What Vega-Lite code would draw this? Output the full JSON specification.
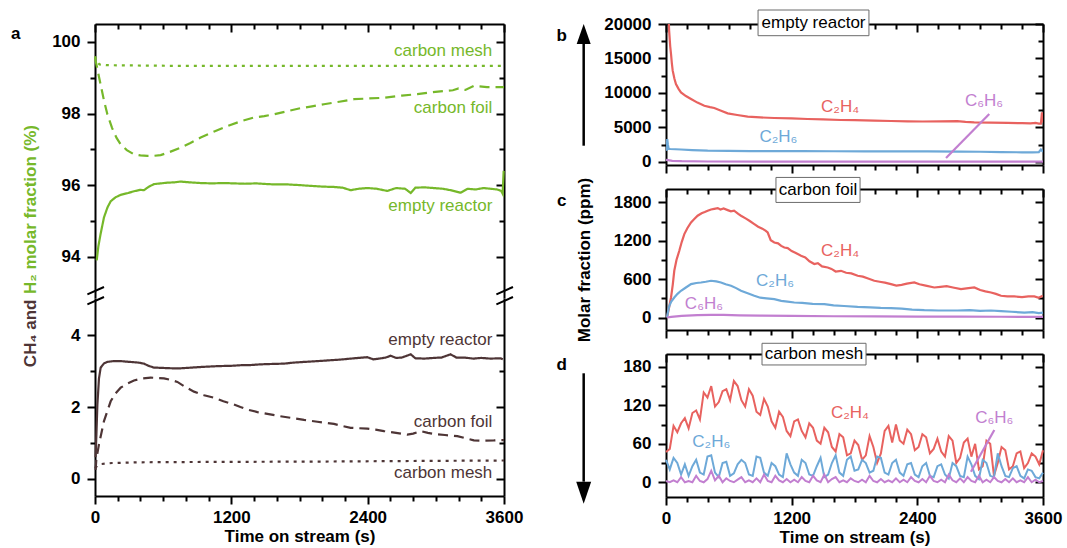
{
"$schema":"https://vega.github.io/schema/vega-lite/v6.json",
"padding":{"left":10,"top":9,"right":5,"bottom":3},
"background":"white",
"spacing":33,
"config":{"font":"Liberation Sans","view":{"stroke":null},
"axis":{"domainColor":"#000","domainWidth":2,"tickColor":"#000","tickWidth":2,"labelFont":"Liberation Sans","labelFontSize":17,"labelFontWeight":"bold","labelColor":"#000","grid":false,"titleFont":"Liberation Sans","titleFontSize":17,"titleFontWeight":"bold","titleColor":"#000","labelFlush":false,"labelOverlap":false,"zindex":0,"format":"d"},
"text":{"font":"Liberation Sans"}},
"datasets":{
"h2":[
{"s":"empty reactor","t":15,"v":93.9},{"s":"empty reactor","t":30,"v":94.3},{"s":"empty reactor","t":50,"v":94.65},{"s":"empty reactor","t":79,"v":95.1},{"s":"empty reactor","t":110,"v":95.38},{"s":"empty reactor","t":138,"v":95.55},{"s":"empty reactor","t":180,"v":95.66},{"s":"empty reactor","t":226,"v":95.73},{"s":"empty reactor","t":290,"v":95.78},{"s":"empty reactor","t":343,"v":95.83},{"s":"empty reactor","t":400,"v":95.87},{"s":"empty reactor","t":431,"v":95.86},{"s":"empty reactor","t":470,"v":95.95},{"s":"empty reactor","t":519,"v":96.03},{"s":"empty reactor","t":580,"v":96.05},{"s":"empty reactor","t":637,"v":96.07},{"s":"empty reactor","t":700,"v":96.08},{"s":"empty reactor","t":754,"v":96.1},{"s":"empty reactor","t":830,"v":96.08},{"s":"empty reactor","t":930,"v":96.06},{"s":"empty reactor","t":1030,"v":96.05},{"s":"empty reactor","t":1130,"v":96.06},{"s":"empty reactor","t":1223,"v":96.05},{"s":"empty reactor","t":1320,"v":96.04},{"s":"empty reactor","t":1420,"v":96.05},{"s":"empty reactor","t":1517,"v":96.03},{"s":"empty reactor","t":1600,"v":96.02},{"s":"empty reactor","t":1700,"v":96.02},{"s":"empty reactor","t":1810,"v":96.0},{"s":"empty reactor","t":1900,"v":95.98},{"s":"empty reactor","t":2000,"v":95.96},{"s":"empty reactor","t":2103,"v":95.95},{"s":"empty reactor","t":2180,"v":95.93},{"s":"empty reactor","t":2250,"v":95.86},{"s":"empty reactor","t":2320,"v":95.9},{"s":"empty reactor","t":2397,"v":95.92},{"s":"empty reactor","t":2480,"v":95.9},{"s":"empty reactor","t":2573,"v":95.84},{"s":"empty reactor","t":2650,"v":95.92},{"s":"empty reactor","t":2730,"v":95.9},{"s":"empty reactor","t":2779,"v":95.78},{"s":"empty reactor","t":2820,"v":95.93},{"s":"empty reactor","t":2900,"v":95.94},{"s":"empty reactor","t":2980,"v":95.92},{"s":"empty reactor","t":3060,"v":95.9},{"s":"empty reactor","t":3130,"v":95.86},{"s":"empty reactor","t":3218,"v":95.79},{"s":"empty reactor","t":3280,"v":95.9},{"s":"empty reactor","t":3350,"v":95.88},{"s":"empty reactor","t":3420,"v":95.92},{"s":"empty reactor","t":3480,"v":95.9},{"s":"empty reactor","t":3540,"v":95.88},{"s":"empty reactor","t":3575,"v":95.84},{"s":"empty reactor","t":3588,"v":95.76},{"s":"empty reactor","t":3597,"v":96.4},
{"s":"carbon foil","t":0,"v":99.55},{"s":"carbon foil","t":21,"v":99.24},{"s":"carbon foil","t":50,"v":98.8},{"s":"carbon foil","t":80,"v":98.35},{"s":"carbon foil","t":109,"v":97.98},{"s":"carbon foil","t":150,"v":97.6},{"s":"carbon foil","t":190,"v":97.32},{"s":"carbon foil","t":226,"v":97.14},{"s":"carbon foil","t":280,"v":96.98},{"s":"carbon foil","t":343,"v":96.86},{"s":"carbon foil","t":400,"v":96.83},{"s":"carbon foil","t":461,"v":96.82},{"s":"carbon foil","t":520,"v":96.82},{"s":"carbon foil","t":578,"v":96.84},{"s":"carbon foil","t":660,"v":96.93},{"s":"carbon foil","t":754,"v":97.05},{"s":"carbon foil","t":840,"v":97.18},{"s":"carbon foil","t":930,"v":97.33},{"s":"carbon foil","t":1050,"v":97.5},{"s":"carbon foil","t":1165,"v":97.65},{"s":"carbon foil","t":1280,"v":97.78},{"s":"carbon foil","t":1400,"v":97.89},{"s":"carbon foil","t":1490,"v":97.93},{"s":"carbon foil","t":1576,"v":97.98},{"s":"carbon foil","t":1700,"v":98.07},{"s":"carbon foil","t":1810,"v":98.15},{"s":"carbon foil","t":1910,"v":98.2},{"s":"carbon foil","t":2015,"v":98.26},{"s":"carbon foil","t":2150,"v":98.33},{"s":"carbon foil","t":2279,"v":98.4},{"s":"carbon foil","t":2400,"v":98.42},{"s":"carbon foil","t":2543,"v":98.44},{"s":"carbon foil","t":2700,"v":98.5},{"s":"carbon foil","t":2837,"v":98.54},{"s":"carbon foil","t":2950,"v":98.59},{"s":"carbon foil","t":3071,"v":98.63},{"s":"carbon foil","t":3150,"v":98.65},{"s":"carbon foil","t":3200,"v":98.7},{"s":"carbon foil","t":3260,"v":98.66},{"s":"carbon foil","t":3335,"v":98.77},{"s":"carbon foil","t":3450,"v":98.74},{"s":"carbon foil","t":3600,"v":98.74},
{"s":"carbon mesh","t":0,"v":99.6},{"s":"carbon mesh","t":15,"v":99.45},{"s":"carbon mesh","t":40,"v":99.37},{"s":"carbon mesh","t":100,"v":99.35},{"s":"carbon mesh","t":400,"v":99.34},{"s":"carbon mesh","t":800,"v":99.33},{"s":"carbon mesh","t":1500,"v":99.33},{"s":"carbon mesh","t":2200,"v":99.33},{"s":"carbon mesh","t":2800,"v":99.33},{"s":"carbon mesh","t":3600,"v":99.33}
],
"ch4":[
{"s":"empty reactor","t":5,"v":0.6},{"s":"empty reactor","t":12,"v":1.2},{"s":"empty reactor","t":21,"v":2.07},{"s":"empty reactor","t":35,"v":2.8},{"s":"empty reactor","t":50,"v":3.1},{"s":"empty reactor","t":80,"v":3.22},{"s":"empty reactor","t":109,"v":3.26},{"s":"empty reactor","t":160,"v":3.28},{"s":"empty reactor","t":226,"v":3.28},{"s":"empty reactor","t":300,"v":3.26},{"s":"empty reactor","t":380,"v":3.24},{"s":"empty reactor","t":431,"v":3.21},{"s":"empty reactor","t":470,"v":3.15},{"s":"empty reactor","t":519,"v":3.1},{"s":"empty reactor","t":600,"v":3.09},{"s":"empty reactor","t":680,"v":3.08},{"s":"empty reactor","t":754,"v":3.08},{"s":"empty reactor","t":850,"v":3.1},{"s":"empty reactor","t":950,"v":3.12},{"s":"empty reactor","t":1077,"v":3.14},{"s":"empty reactor","t":1200,"v":3.15},{"s":"empty reactor","t":1300,"v":3.17},{"s":"empty reactor","t":1370,"v":3.17},{"s":"empty reactor","t":1450,"v":3.19},{"s":"empty reactor","t":1550,"v":3.2},{"s":"empty reactor","t":1664,"v":3.21},{"s":"empty reactor","t":1750,"v":3.24},{"s":"empty reactor","t":1850,"v":3.26},{"s":"empty reactor","t":1957,"v":3.28},{"s":"empty reactor","t":2050,"v":3.3},{"s":"empty reactor","t":2150,"v":3.32},{"s":"empty reactor","t":2250,"v":3.35},{"s":"empty reactor","t":2320,"v":3.37},{"s":"empty reactor","t":2397,"v":3.39},{"s":"empty reactor","t":2450,"v":3.33},{"s":"empty reactor","t":2500,"v":3.35},{"s":"empty reactor","t":2560,"v":3.38},{"s":"empty reactor","t":2602,"v":3.43},{"s":"empty reactor","t":2650,"v":3.37},{"s":"empty reactor","t":2700,"v":3.38},{"s":"empty reactor","t":2779,"v":3.47},{"s":"empty reactor","t":2820,"v":3.36},{"s":"empty reactor","t":2900,"v":3.35},{"s":"empty reactor","t":2983,"v":3.37},{"s":"empty reactor","t":3050,"v":3.38},{"s":"empty reactor","t":3130,"v":3.47},{"s":"empty reactor","t":3180,"v":3.38},{"s":"empty reactor","t":3250,"v":3.38},{"s":"empty reactor","t":3330,"v":3.35},{"s":"empty reactor","t":3400,"v":3.37},{"s":"empty reactor","t":3480,"v":3.35},{"s":"empty reactor","t":3571,"v":3.36},{"s":"empty reactor","t":3590,"v":3.33},
{"s":"carbon foil","t":5,"v":0.25},{"s":"carbon foil","t":12,"v":0.55},{"s":"carbon foil","t":35,"v":0.96},{"s":"carbon foil","t":79,"v":1.61},{"s":"carbon foil","t":138,"v":2.16},{"s":"carbon foil","t":180,"v":2.38},{"s":"carbon foil","t":226,"v":2.54},{"s":"carbon foil","t":290,"v":2.66},{"s":"carbon foil","t":343,"v":2.74},{"s":"carbon foil","t":420,"v":2.8},{"s":"carbon foil","t":490,"v":2.82},{"s":"carbon foil","t":550,"v":2.81},{"s":"carbon foil","t":607,"v":2.8},{"s":"carbon foil","t":660,"v":2.76},{"s":"carbon foil","t":725,"v":2.7},{"s":"carbon foil","t":800,"v":2.55},{"s":"carbon foil","t":871,"v":2.43},{"s":"carbon foil","t":960,"v":2.33},{"s":"carbon foil","t":1047,"v":2.26},{"s":"carbon foil","t":1130,"v":2.16},{"s":"carbon foil","t":1223,"v":2.07},{"s":"carbon foil","t":1280,"v":2.0},{"s":"carbon foil","t":1341,"v":1.93},{"s":"carbon foil","t":1430,"v":1.86},{"s":"carbon foil","t":1517,"v":1.81},{"s":"carbon foil","t":1620,"v":1.75},{"s":"carbon foil","t":1722,"v":1.7},{"s":"carbon foil","t":1840,"v":1.64},{"s":"carbon foil","t":1957,"v":1.59},{"s":"carbon foil","t":2030,"v":1.56},{"s":"carbon foil","t":2103,"v":1.53},{"s":"carbon foil","t":2180,"v":1.47},{"s":"carbon foil","t":2250,"v":1.42},{"s":"carbon foil","t":2320,"v":1.41},{"s":"carbon foil","t":2397,"v":1.4},{"s":"carbon foil","t":2470,"v":1.37},{"s":"carbon foil","t":2543,"v":1.33},{"s":"carbon foil","t":2650,"v":1.28},{"s":"carbon foil","t":2749,"v":1.23},{"s":"carbon foil","t":2800,"v":1.26},{"s":"carbon foil","t":2866,"v":1.33},{"s":"carbon foil","t":2930,"v":1.28},{"s":"carbon foil","t":2983,"v":1.25},{"s":"carbon foil","t":3080,"v":1.22},{"s":"carbon foil","t":3189,"v":1.19},{"s":"carbon foil","t":3260,"v":1.13},{"s":"carbon foil","t":3335,"v":1.07},{"s":"carbon foil","t":3420,"v":1.06},{"s":"carbon foil","t":3511,"v":1.07},{"s":"carbon foil","t":3560,"v":1.08},{"s":"carbon foil","t":3600,"v":1.08},
{"s":"carbon mesh","t":0,"v":0.3},{"s":"carbon mesh","t":20,"v":0.36},{"s":"carbon mesh","t":50,"v":0.41},{"s":"carbon mesh","t":150,"v":0.44},{"s":"carbon mesh","t":400,"v":0.46},{"s":"carbon mesh","t":1000,"v":0.47},{"s":"carbon mesh","t":2000,"v":0.48},{"s":"carbon mesh","t":3000,"v":0.5},{"s":"carbon mesh","t":3600,"v":0.51}
],
"pb":[
{"s":"C2H4","t":22,"v":22000},{"s":"C2H4","t":30,"v":19000},{"s":"C2H4","t":40,"v":16800},{"s":"C2H4","t":48,"v":15650},{"s":"C2H4","t":56,"v":14300},{"s":"C2H4","t":64,"v":13230},{"s":"C2H4","t":80,"v":12100},{"s":"C2H4","t":95,"v":11300},{"s":"C2H4","t":120,"v":10600},{"s":"C2H4","t":143,"v":10080},{"s":"C2H4","t":190,"v":9550},{"s":"C2H4","t":239,"v":9125},{"s":"C2H4","t":300,"v":8600},{"s":"C2H4","t":366,"v":8150},{"s":"C2H4","t":420,"v":7950},{"s":"C2H4","t":461,"v":7820},{"s":"C2H4","t":520,"v":7450},{"s":"C2H4","t":589,"v":7040},{"s":"C2H4","t":680,"v":6800},{"s":"C2H4","t":780,"v":6560},{"s":"C2H4","t":900,"v":6450},{"s":"C2H4","t":1034,"v":6370},{"s":"C2H4","t":1200,"v":6300},{"s":"C2H4","t":1352,"v":6225},{"s":"C2H4","t":1500,"v":6180},{"s":"C2H4","t":1670,"v":6080},{"s":"C2H4","t":1800,"v":6050},{"s":"C2H4","t":1989,"v":5980},{"s":"C2H4","t":2150,"v":5930},{"s":"C2H4","t":2307,"v":5880},{"s":"C2H4","t":2450,"v":5860},{"s":"C2H4","t":2625,"v":5880},{"s":"C2H4","t":2780,"v":5900},{"s":"C2H4","t":2860,"v":5800},{"s":"C2H4","t":2943,"v":5730},{"s":"C2H4","t":3100,"v":5700},{"s":"C2H4","t":3262,"v":5650},{"s":"C2H4","t":3400,"v":5620},{"s":"C2H4","t":3480,"v":5600},{"s":"C2H4","t":3530,"v":5650},{"s":"C2H4","t":3560,"v":5560},{"s":"C2H4","t":3580,"v":5550},{"s":"C2H4","t":3590,"v":7200},{"s":"C2H4","t":3600,"v":5700},
{"s":"C2H6","t":5,"v":1600},{"s":"C2H6","t":12,"v":3300},{"s":"C2H6","t":18,"v":2500},{"s":"C2H6","t":25,"v":1900},{"s":"C2H6","t":40,"v":1870},{"s":"C2H6","t":143,"v":1800},{"s":"C2H6","t":250,"v":1720},{"s":"C2H6","t":398,"v":1630},{"s":"C2H6","t":600,"v":1590},{"s":"C2H6","t":800,"v":1570},{"s":"C2H6","t":1034,"v":1560},{"s":"C2H6","t":1300,"v":1550},{"s":"C2H6","t":1600,"v":1545},{"s":"C2H6","t":1900,"v":1540},{"s":"C2H6","t":2200,"v":1530},{"s":"C2H6","t":2500,"v":1520},{"s":"C2H6","t":2800,"v":1500},{"s":"C2H6","t":3000,"v":1470},{"s":"C2H6","t":3200,"v":1420},{"s":"C2H6","t":3400,"v":1390},{"s":"C2H6","t":3500,"v":1380},{"s":"C2H6","t":3560,"v":1400},{"s":"C2H6","t":3580,"v":1800},{"s":"C2H6","t":3600,"v":1450},
{"s":"C6H6","t":0,"v":300},{"s":"C6H6","t":20,"v":250},{"s":"C6H6","t":60,"v":150},{"s":"C6H6","t":150,"v":100},{"s":"C6H6","t":400,"v":60},{"s":"C6H6","t":1000,"v":40},{"s":"C6H6","t":2000,"v":30},{"s":"C6H6","t":3000,"v":30},{"s":"C6H6","t":3600,"v":30}
],
"pc":[
{"s":"C2H4","t":10,"v":0},{"s":"C2H4","t":25,"v":120},{"s":"C2H4","t":48,"v":313},{"s":"C2H4","t":65,"v":520},{"s":"C2H4","t":79,"v":731},{"s":"C2H4","t":100,"v":900},{"s":"C2H4","t":127,"v":1044},{"s":"C2H4","t":150,"v":1180},{"s":"C2H4","t":175,"v":1305},{"s":"C2H4","t":205,"v":1400},{"s":"C2H4","t":239,"v":1487},{"s":"C2H4","t":270,"v":1540},{"s":"C2H4","t":302,"v":1592},{"s":"C2H4","t":340,"v":1630},{"s":"C2H4","t":370,"v":1650},{"s":"C2H4","t":398,"v":1670},{"s":"C2H4","t":430,"v":1690},{"s":"C2H4","t":460,"v":1700},{"s":"C2H4","t":494,"v":1712},{"s":"C2H4","t":520,"v":1690},{"s":"C2H4","t":550,"v":1705},{"s":"C2H4","t":589,"v":1680},{"s":"C2H4","t":620,"v":1660},{"s":"C2H4","t":650,"v":1670},{"s":"C2H4","t":690,"v":1620},{"s":"C2H4","t":716,"v":1592},{"s":"C2H4","t":760,"v":1550},{"s":"C2H4","t":800,"v":1510},{"s":"C2H4","t":843,"v":1462},{"s":"C2H4","t":880,"v":1420},{"s":"C2H4","t":920,"v":1390},{"s":"C2H4","t":950,"v":1360},{"s":"C2H4","t":971,"v":1330},{"s":"C2H4","t":1000,"v":1210},{"s":"C2H4","t":1034,"v":1174},{"s":"C2H4","t":1070,"v":1160},{"s":"C2H4","t":1100,"v":1120},{"s":"C2H4","t":1130,"v":1095},{"s":"C2H4","t":1162,"v":1086},{"s":"C2H4","t":1200,"v":1040},{"s":"C2H4","t":1240,"v":1010},{"s":"C2H4","t":1289,"v":966},{"s":"C2H4","t":1330,"v":940},{"s":"C2H4","t":1370,"v":880},{"s":"C2H4","t":1416,"v":836},{"s":"C2H4","t":1450,"v":850},{"s":"C2H4","t":1490,"v":800},{"s":"C2H4","t":1544,"v":783},{"s":"C2H4","t":1580,"v":760},{"s":"C2H4","t":1620,"v":720},{"s":"C2H4","t":1671,"v":731},{"s":"C2H4","t":1720,"v":700},{"s":"C2H4","t":1770,"v":690},{"s":"C2H4","t":1830,"v":653},{"s":"C2H4","t":1880,"v":640},{"s":"C2H4","t":1930,"v":610},{"s":"C2H4","t":1989,"v":575},{"s":"C2H4","t":2040,"v":560},{"s":"C2H4","t":2090,"v":545},{"s":"C2H4","t":2148,"v":522},{"s":"C2H4","t":2200,"v":500},{"s":"C2H4","t":2250,"v":510},{"s":"C2H4","t":2300,"v":530},{"s":"C2H4","t":2371,"v":548},{"s":"C2H4","t":2420,"v":520},{"s":"C2H4","t":2480,"v":500},{"s":"C2H4","t":2562,"v":470},{"s":"C2H4","t":2620,"v":480},{"s":"C2H4","t":2680,"v":490},{"s":"C2H4","t":2740,"v":470},{"s":"C2H4","t":2817,"v":444},{"s":"C2H4","t":2870,"v":455},{"s":"C2H4","t":2944,"v":470},{"s":"C2H4","t":3000,"v":430},{"s":"C2H4","t":3050,"v":410},{"s":"C2H4","t":3103,"v":391},{"s":"C2H4","t":3150,"v":370},{"s":"C2H4","t":3199,"v":340},{"s":"C2H4","t":3260,"v":330},{"s":"C2H4","t":3326,"v":330},{"s":"C2H4","t":3400,"v":320},{"s":"C2H4","t":3460,"v":330},{"s":"C2H4","t":3517,"v":330},{"s":"C2H4","t":3560,"v":310},{"s":"C2H4","t":3597,"v":340},
{"s":"C2H6","t":10,"v":0},{"s":"C2H6","t":20,"v":100},{"s":"C2H6","t":32,"v":183},{"s":"C2H6","t":50,"v":250},{"s":"C2H6","t":79,"v":313},{"s":"C2H6","t":110,"v":370},{"s":"C2H6","t":143,"v":418},{"s":"C2H6","t":190,"v":470},{"s":"C2H6","t":239,"v":522},{"s":"C2H6","t":290,"v":540},{"s":"C2H6","t":334,"v":548},{"s":"C2H6","t":380,"v":560},{"s":"C2H6","t":430,"v":575},{"s":"C2H6","t":480,"v":565},{"s":"C2H6","t":525,"v":548},{"s":"C2H6","t":570,"v":520},{"s":"C2H6","t":621,"v":496},{"s":"C2H6","t":670,"v":460},{"s":"C2H6","t":716,"v":418},{"s":"C2H6","t":780,"v":380},{"s":"C2H6","t":843,"v":340},{"s":"C2H6","t":900,"v":310},{"s":"C2H6","t":960,"v":300},{"s":"C2H6","t":1034,"v":287},{"s":"C2H6","t":1100,"v":260},{"s":"C2H6","t":1160,"v":250},{"s":"C2H6","t":1225,"v":235},{"s":"C2H6","t":1300,"v":230},{"s":"C2H6","t":1400,"v":215},{"s":"C2H6","t":1512,"v":209},{"s":"C2H6","t":1600,"v":190},{"s":"C2H6","t":1700,"v":180},{"s":"C2H6","t":1830,"v":167},{"s":"C2H6","t":1950,"v":160},{"s":"C2H6","t":2050,"v":150},{"s":"C2H6","t":2148,"v":147},{"s":"C2H6","t":2250,"v":140},{"s":"C2H6","t":2350,"v":125},{"s":"C2H6","t":2467,"v":115},{"s":"C2H6","t":2600,"v":110},{"s":"C2H6","t":2785,"v":110},{"s":"C2H6","t":2900,"v":115},{"s":"C2H6","t":3000,"v":105},{"s":"C2H6","t":3103,"v":110},{"s":"C2H6","t":3200,"v":100},{"s":"C2H6","t":3300,"v":90},{"s":"C2H6","t":3422,"v":78},{"s":"C2H6","t":3500,"v":85},{"s":"C2H6","t":3560,"v":70},{"s":"C2H6","t":3600,"v":78},
{"s":"C6H6","t":10,"v":0},{"s":"C6H6","t":50,"v":10},{"s":"C6H6","t":150,"v":25},{"s":"C6H6","t":300,"v":38},{"s":"C6H6","t":430,"v":42},{"s":"C6H6","t":550,"v":40},{"s":"C6H6","t":700,"v":35},{"s":"C6H6","t":900,"v":30},{"s":"C6H6","t":1200,"v":25},{"s":"C6H6","t":1600,"v":20},{"s":"C6H6","t":2000,"v":18},{"s":"C6H6","t":2400,"v":15},{"s":"C6H6","t":2800,"v":15},{"s":"C6H6","t":3200,"v":12},{"s":"C6H6","t":3600,"v":10}
],
"pd":[
{"t":0,"C2H4":47,"C2H6":35,"C6H6":2},{"t":36,"C2H4":52,"C2H6":20,"C6H6":0},{"t":72,"C2H4":88,"C2H6":38,"C6H6":3},{"t":108,"C2H4":78,"C2H6":30,"C6H6":0},{"t":144,"C2H4":92,"C2H6":12,"C6H6":8},{"t":180,"C2H4":100,"C2H6":28,"C6H6":0},{"t":216,"C2H4":84,"C2H6":10,"C6H6":2},{"t":252,"C2H4":108,"C2H6":25,"C6H6":0},{"t":288,"C2H4":112,"C2H6":35,"C6H6":10},{"t":324,"C2H4":98,"C2H6":15,"C6H6":2},
{"t":360,"C2H4":140,"C2H6":12,"C6H6":0},{"t":396,"C2H4":132,"C2H6":40,"C6H6":5},{"t":432,"C2H4":150,"C2H6":42,"C6H6":18},{"t":468,"C2H4":118,"C2H6":15,"C6H6":3},{"t":504,"C2H4":125,"C2H6":8,"C6H6":10},{"t":540,"C2H4":142,"C2H6":30,"C6H6":0},{"t":576,"C2H4":145,"C2H6":32,"C6H6":6},{"t":612,"C2H4":128,"C2H6":10,"C6H6":2},{"t":648,"C2H4":158,"C2H6":14,"C6H6":0},{"t":684,"C2H4":150,"C2H6":28,"C6H6":4},
{"t":720,"C2H4":128,"C2H6":35,"C6H6":8},{"t":756,"C2H4":118,"C2H6":30,"C6H6":0},{"t":792,"C2H4":145,"C2H6":12,"C6H6":3},{"t":828,"C2H4":135,"C2H6":10,"C6H6":0},{"t":864,"C2H4":110,"C2H6":40,"C6H6":6},{"t":900,"C2H4":105,"C2H6":38,"C6H6":0},{"t":936,"C2H4":130,"C2H6":15,"C6H6":12},{"t":972,"C2H4":118,"C2H6":10,"C6H6":2},{"t":1008,"C2H4":95,"C2H6":30,"C6H6":0},{"t":1044,"C2H4":85,"C2H6":25,"C6H6":10},
{"t":1080,"C2H4":110,"C2H6":12,"C6H6":3},{"t":1116,"C2H4":102,"C2H6":8,"C6H6":0},{"t":1152,"C2H4":80,"C2H6":45,"C6H6":5},{"t":1188,"C2H4":72,"C2H6":28,"C6H6":0},{"t":1224,"C2H4":95,"C2H6":15,"C6H6":4},{"t":1260,"C2H4":98,"C2H6":10,"C6H6":0},{"t":1296,"C2H4":80,"C2H6":35,"C6H6":8},{"t":1332,"C2H4":70,"C2H6":30,"C6H6":2},{"t":1368,"C2H4":92,"C2H6":12,"C6H6":0},{"t":1404,"C2H4":85,"C2H6":10,"C6H6":10},
{"t":1440,"C2H4":65,"C2H6":25,"C6H6":3},{"t":1476,"C2H4":60,"C2H6":38,"C6H6":0},{"t":1512,"C2H4":85,"C2H6":8,"C6H6":12},{"t":1548,"C2H4":78,"C2H6":12,"C6H6":0},{"t":1584,"C2H4":55,"C2H6":30,"C6H6":5},{"t":1620,"C2H4":48,"C2H6":42,"C6H6":8},{"t":1656,"C2H4":75,"C2H6":15,"C6H6":0},{"t":1692,"C2H4":70,"C2H6":10,"C6H6":3},{"t":1728,"C2H4":42,"C2H6":35,"C6H6":0},{"t":1764,"C2H4":45,"C2H6":40,"C6H6":6},
{"t":1800,"C2H4":65,"C2H6":18,"C6H6":2},{"t":1836,"C2H4":58,"C2H6":20,"C6H6":0},{"t":1872,"C2H4":35,"C2H6":35,"C6H6":4},{"t":1908,"C2H4":42,"C2H6":30,"C6H6":0},{"t":1944,"C2H4":72,"C2H6":15,"C6H6":10},{"t":1980,"C2H4":55,"C2H6":18,"C6H6":2},{"t":2016,"C2H4":30,"C2H6":40,"C6H6":0},{"t":2052,"C2H4":45,"C2H6":38,"C6H6":5},{"t":2088,"C2H4":80,"C2H6":15,"C6H6":0},{"t":2124,"C2H4":88,"C2H6":12,"C6H6":3},
{"t":2160,"C2H4":62,"C2H6":30,"C6H6":0},{"t":2196,"C2H4":90,"C2H6":35,"C6H6":6},{"t":2232,"C2H4":65,"C2H6":15,"C6H6":0},{"t":2268,"C2H4":60,"C2H6":10,"C6H6":4},{"t":2304,"C2H4":82,"C2H6":28,"C6H6":0},{"t":2340,"C2H4":75,"C2H6":30,"C6H6":8},{"t":2376,"C2H4":50,"C2H6":12,"C6H6":2},{"t":2412,"C2H4":55,"C2H6":8,"C6H6":0},{"t":2448,"C2H4":75,"C2H6":25,"C6H6":5},{"t":2484,"C2H4":70,"C2H6":30,"C6H6":0},
{"t":2520,"C2H4":45,"C2H6":10,"C6H6":10},{"t":2556,"C2H4":52,"C2H6":8,"C6H6":2},{"t":2592,"C2H4":68,"C2H6":25,"C6H6":0},{"t":2628,"C2H4":48,"C2H6":28,"C6H6":4},{"t":2664,"C2H4":40,"C2H6":12,"C6H6":0},{"t":2700,"C2H4":72,"C2H6":6,"C6H6":12},{"t":2736,"C2H4":65,"C2H6":30,"C6H6":3},{"t":2772,"C2H4":30,"C2H6":25,"C6H6":0},{"t":2808,"C2H4":38,"C2H6":10,"C6H6":6},{"t":2844,"C2H4":62,"C2H6":8,"C6H6":0},
{"t":2880,"C2H4":68,"C2H6":40,"C6H6":8},{"t":2916,"C2H4":40,"C2H6":28,"C6H6":2},{"t":2952,"C2H4":60,"C2H6":10,"C6H6":0},{"t":2988,"C2H4":20,"C2H6":5,"C6H6":10},{"t":3024,"C2H4":25,"C2H6":35,"C6H6":0},{"t":3060,"C2H4":65,"C2H6":30,"C6H6":4},{"t":3096,"C2H4":60,"C2H6":10,"C6H6":0},{"t":3132,"C2H4":10,"C2H6":8,"C6H6":8},{"t":3168,"C2H4":30,"C2H6":45,"C6H6":2},{"t":3204,"C2H4":55,"C2H6":25,"C6H6":0},
{"t":3240,"C2H4":50,"C2H6":10,"C6H6":5},{"t":3276,"C2H4":20,"C2H6":8,"C6H6":0},{"t":3312,"C2H4":25,"C2H6":22,"C6H6":6},{"t":3348,"C2H4":45,"C2H6":25,"C6H6":0},{"t":3384,"C2H4":48,"C2H6":10,"C6H6":3},{"t":3420,"C2H4":22,"C2H6":6,"C6H6":0},{"t":3456,"C2H4":30,"C2H6":20,"C6H6":8},{"t":3492,"C2H4":45,"C2H6":18,"C6H6":0},{"t":3528,"C2H4":40,"C2H6":8,"C6H6":4},{"t":3564,"C2H4":28,"C2H6":6,"C6H6":0},{"t":3600,"C2H4":50,"C2H6":15,"C6H6":2}
]
},
"resolve":{"scale":{"x":"independent","y":"independent"}},
"hconcat":[
{"bounds":"flush","spacing":0,"resolve":{"scale":{"x":"independent","y":"independent"}},
"vconcat":[
{"width":409,"height":274,
"resolve":{"axis":{"x":"independent","y":"independent"}},
"layer":[
{"data":{"name":"h2"},"mark":{"type":"line","strokeWidth":2.2,"color":"#76b82a"},
"encoding":{
"x":{"field":"t","type":"quantitative","scale":{"domain":[0,3600]},"axis":{"orient":"top","values":[0,1200,2400,3600],"tickSize":-8,"labels":false,"title":null}},
"y":{"field":"v","type":"quantitative","scale":{"domain":[92.85,100.5]},"axis":{"orient":"left","values":[94,96,98,100],"tickSize":8,"labelPadding":7,"title":null}},
"strokeDash":{"field":"s","type":"nominal","scale":{"domain":["empty reactor","carbon foil","carbon mesh"],"range":[[1,0],[10,6],[3,5]]},"legend":null}}},
{"data":{"values":[{"t":0,"v":96}]},"mark":{"type":"point","opacity":0},
"encoding":{
"x":{"field":"t","type":"quantitative","scale":{"domain":[0,3600]},"axis":{"orient":"top","values":[200,400,600,800,1000,1400,1600,1800,2000,2200,2600,2800,3000,3200,3400],"tickSize":-5,"labels":false,"domain":false,"title":null}},
"y":{"field":"v","type":"quantitative","scale":{"domain":[92.85,100.5]},"axis":{"orient":"left","values":[95,97,99],"tickSize":5,"labels":false,"domain":false,"title":null}}}},
{"data":{"values":[{"t":0,"v":96}]},"mark":{"type":"point","opacity":0},
"encoding":{
"x":{"field":"t","type":"quantitative","scale":{"domain":[0,3600]},"axis":null},
"y":{"field":"v","type":"quantitative","scale":{"domain":[92.85,100.5]},"axis":{"orient":"right","values":[94,96,98,100],"tickSize":-8,"labels":false,"title":null}}}},
{"data":{"values":[{"t":0,"v":96}]},"mark":{"type":"point","opacity":0},
"encoding":{
"x":{"field":"t","type":"quantitative","scale":{"domain":[0,3600]},"axis":null},
"y":{"field":"v","type":"quantitative","scale":{"domain":[92.85,100.5]},"axis":{"orient":"right","values":[95,97,99],"tickSize":-5,"labels":false,"domain":false,"title":null}}}},
{"data":{"values":[{"t":3497,"v":99.75,"txt":"carbon mesh"},{"t":3497,"v":98.15,"txt":"carbon foil"},{"t":3497,"v":95.42,"txt":"empty reactor"}]},
"mark":{"type":"text","align":"right","baseline":"middle","fontSize":17,"color":"#76b82a"},
"encoding":{"x":{"field":"t","type":"quantitative","scale":{"domain":[0,3600]},"axis":null},"y":{"field":"v","type":"quantitative","scale":{"domain":[92.85,100.5]},"axis":null},"text":{"field":"txt"}}},
{"data":{"values":[{"t":-698,"v":100.21,"txt":"a"}]},
"mark":{"type":"text","align":"center","baseline":"middle","fontSize":17,"fontWeight":"bold","color":"#000"},
"encoding":{"x":{"field":"t","type":"quantitative","scale":{"domain":[0,3600]},"axis":null},"y":{"field":"v","type":"quantitative","scale":{"domain":[92.85,100.5]},"axis":null},"text":{"field":"txt"}}},
{"data":{"values":[{"t":-566,"v":90.92,"txt":"CH₄ and"}]},
"mark":{"type":"text","align":"left","baseline":"middle","angle":270,"fontSize":17,"fontWeight":"bold","color":"#4e3536"},
"encoding":{"x":{"field":"t","type":"quantitative","scale":{"domain":[0,3600]},"axis":null},"y":{"field":"v","type":"quantitative","scale":{"domain":[92.85,100.5]},"axis":null},"text":{"field":"txt"}}},
{"data":{"values":[{"t":-566,"v":97.68,"txt":"H₂ molar fraction (%)"}]},
"mark":{"type":"text","align":"right","baseline":"middle","angle":270,"fontSize":17,"fontWeight":"bold","color":"#76b82a"},
"encoding":{"x":{"field":"t","type":"quantitative","scale":{"domain":[0,3600]},"axis":null},"y":{"field":"v","type":"quantitative","scale":{"domain":[92.85,100.5]},"axis":null},"text":{"field":"txt"}}}
]},
{"width":409,"height":198,
"resolve":{"axis":{"x":"independent","y":"independent"}},
"layer":[
{"data":{"name":"ch4"},"mark":{"type":"line","strokeWidth":2.2,"color":"#4e3536"},
"encoding":{
"x":{"field":"t","type":"quantitative","scale":{"domain":[0,3600]},"axis":{"orient":"bottom","values":[0,1200,2400,3600],"tickSize":8,"labelPadding":5,"title":"Time on stream (s)","titlePadding":3}},
"y":{"field":"v","type":"quantitative","scale":{"domain":[-0.48,5.04]},"axis":{"orient":"left","values":[0,2,4],"tickSize":8,"labelPadding":7,"title":null}},
"strokeDash":{"field":"s","type":"nominal","scale":{"domain":["empty reactor","carbon foil","carbon mesh"],"range":[[1,0],[10,6],[3,5]]},"legend":null}}},
{"data":{"values":[{"t":0,"v":2}]},"mark":{"type":"point","opacity":0},
"encoding":{
"x":{"field":"t","type":"quantitative","scale":{"domain":[0,3600]},"axis":{"orient":"bottom","values":[200,400,600,800,1000,1400,1600,1800,2000,2200,2600,2800,3000,3200,3400],"tickSize":5,"labels":false,"domain":false,"title":null}},
"y":{"field":"v","type":"quantitative","scale":{"domain":[-0.48,5.04]},"axis":{"orient":"left","values":[1,3],"tickSize":5,"labels":false,"domain":false,"title":null}}}},
{"data":{"values":[{"t":0,"v":2}]},"mark":{"type":"point","opacity":0},
"encoding":{
"x":{"field":"t","type":"quantitative","scale":{"domain":[0,3600]},"axis":null},
"y":{"field":"v","type":"quantitative","scale":{"domain":[-0.48,5.04]},"axis":{"orient":"right","values":[0,2,4],"tickSize":-8,"labels":false,"title":null}}}},
{"data":{"values":[{"t":0,"v":2}]},"mark":{"type":"point","opacity":0},
"encoding":{
"x":{"field":"t","type":"quantitative","scale":{"domain":[0,3600]},"axis":null},
"y":{"field":"v","type":"quantitative","scale":{"domain":[-0.48,5.04]},"axis":{"orient":"right","values":[1,3],"tickSize":-5,"labels":false,"domain":false,"title":null}}}},
{"data":{"values":[{"t":3497,"v":3.86,"txt":"empty reactor"},{"t":3497,"v":1.59,"txt":"carbon foil"},{"t":3497,"v":0.16,"txt":"carbon mesh"}]},
"mark":{"type":"text","align":"right","baseline":"middle","fontSize":17,"color":"#4e3536"},
"encoding":{"x":{"field":"t","type":"quantitative","scale":{"domain":[0,3600]},"axis":null},"y":{"field":"v","type":"quantitative","scale":{"domain":[-0.48,5.04]},"axis":null},"text":{"field":"txt"}}},
{"data":{"values":[{"t":-67,"t2":79,"v":4.864,"v2":5.068},{"t":-67,"t2":79,"v":5.143,"v2":5.347},{"t":3533,"t2":3679,"v":4.864,"v2":5.068},{"t":3533,"t2":3679,"v":5.143,"v2":5.347}]},
"mark":{"type":"rule","strokeWidth":2,"color":"#000"},
"encoding":{"x":{"field":"t","type":"quantitative","scale":{"domain":[0,3600]},"axis":null},"x2":{"field":"t2"},"y":{"field":"v","type":"quantitative","scale":{"domain":[-0.48,5.04]},"axis":null},"y2":{"field":"v2"}}}
]}
]},
{"bounds":"flush","spacing":24,"resolve":{"scale":{"x":"independent","y":"independent"}},
"vconcat":[
{"width":377,"height":141,
"resolve":{"axis":{"x":"independent","y":"independent"}},
"layer":[
{"data":{"name":"pb"},"mark":{"type":"line","strokeWidth":2.2,"clip":true},
"encoding":{
"x":{"field":"t","type":"quantitative","scale":{"domain":[0,3600]},"axis":{"orient":"bottom","values":[0,1200,2400,3600],"tickSize":8,"labels":false,"title":null}},
"y":{"field":"v","type":"quantitative","scale":{"domain":[-450,20000]},"axis":{"orient":"left","values":[0,5000,10000,15000,20000],"tickSize":8,"labelPadding":7,"title":null}},
"color":{"field":"s","type":"nominal","scale":{"domain":["C2H4","C2H6","C6H6"],"range":["#e8625f","#6ea9d8","#c27fd0"]},"legend":null}}},
{"data":{"values":[{"t":0,"v":0}]},"mark":{"type":"point","opacity":0},
"encoding":{
"x":{"field":"t","type":"quantitative","scale":{"domain":[0,3600]},"axis":{"orient":"bottom","values":[200,400,600,800,1000,1400,1600,1800,2000,2200,2600,2800,3000,3200,3400],"tickSize":5,"labels":false,"domain":false,"title":null}},
"y":{"field":"v","type":"quantitative","scale":{"domain":[-450,20000]},"axis":{"orient":"left","values":[2500,7500,12500,17500],"tickSize":5,"labels":false,"domain":false,"title":null}}}},
{"data":{"values":[{"t":0,"v":0}]},"mark":{"type":"point","opacity":0},
"encoding":{
"x":{"field":"t","type":"quantitative","scale":{"domain":[0,3600]},"axis":{"orient":"top","values":[0,1200,2400,3600],"tickSize":-8,"labels":false,"title":null}},
"y":{"field":"v","type":"quantitative","scale":{"domain":[-450,20000]},"axis":{"orient":"right","values":[0,5000,10000,15000,20000],"tickSize":-8,"labels":false,"title":null}}}},
{"data":{"values":[{"t":0,"v":0}]},"mark":{"type":"point","opacity":0},
"encoding":{
"x":{"field":"t","type":"quantitative","scale":{"domain":[0,3600]},"axis":{"orient":"top","values":[200,400,600,800,1000,1400,1600,1800,2000,2200,2600,2800,3000,3200,3400],"tickSize":-5,"labels":false,"domain":false,"title":null}},
"y":{"field":"v","type":"quantitative","scale":{"domain":[-450,20000]},"axis":{"orient":"right","values":[2500,7500,12500,17500],"tickSize":-5,"labels":false,"domain":false,"title":null}}}},
{"data":{"values":[{"t":2674,"t2":3087,"v":570,"v2":6950}]},
"mark":{"type":"rule","strokeWidth":2.2,"color":"#c27fd0"},
"encoding":{"x":{"field":"t","type":"quantitative","scale":{"domain":[0,3600]},"axis":null},"x2":{"field":"t2"},"y":{"field":"v","type":"quantitative","scale":{"domain":[-450,20000]},"axis":null},"y2":{"field":"v2"}}},
{"data":{"values":[{"s":"C2H4","txt":"C₂H₄","t":1662,"v":7907},{"s":"C2H6","txt":"C₂H₆","t":1074,"v":3557},{"s":"C6H6","txt":"C₆H₆","t":3037,"v":8880}]},
"mark":{"type":"text","align":"center","baseline":"middle","fontSize":17},
"encoding":{"x":{"field":"t","type":"quantitative","scale":{"domain":[0,3600]},"axis":null},"y":{"field":"v","type":"quantitative","scale":{"domain":[-450,20000]},"axis":null},"text":{"field":"txt"},"color":{"field":"s","type":"nominal","scale":{"domain":["C2H4","C2H6","C6H6"],"range":["#e8625f","#6ea9d8","#c27fd0"]},"legend":null}}},
{"data":{"values":[{"t":879,"t2":1938,"v":18303,"v2":22030}]},
"mark":{"type":"rect","fill":"#fff","stroke":"#6b6b6b","strokeWidth":1},
"encoding":{"x":{"field":"t","type":"quantitative","scale":{"domain":[0,3600]},"axis":null},"x2":{"field":"t2"},"y":{"field":"v","type":"quantitative","scale":{"domain":[-450,20000]},"axis":null},"y2":{"field":"v2"}}},
{"data":{"values":[{"t":1409,"v":20160,"txt":"empty reactor"}]},
"mark":{"type":"text","align":"center","baseline":"middle","fontSize":17,"color":"#000"},
"encoding":{"x":{"field":"t","type":"quantitative","scale":{"domain":[0,3600]},"axis":null},"y":{"field":"v","type":"quantitative","scale":{"domain":[-450,20000]},"axis":null},"text":{"field":"txt"}}},
{"data":{"values":[{"t":-786,"v":2350,"v2":17100}]},
"mark":{"type":"rule","strokeWidth":2.5,"color":"#000"},
"encoding":{"x":{"field":"t","type":"quantitative","scale":{"domain":[0,3600]},"axis":null},"y":{"field":"v","type":"quantitative","scale":{"domain":[-450,20000]},"axis":null},"y2":{"field":"v2"}}},
{"data":{"values":[{"t":-786,"v":18550}]},
"mark":{"type":"point","shape":"M0,-1L0.7,1L-0.7,1Z","size":400,"filled":true,"color":"#000","opacity":1},
"encoding":{"x":{"field":"t","type":"quantitative","scale":{"domain":[0,3600]},"axis":null},"y":{"field":"v","type":"quantitative","scale":{"domain":[-450,20000]},"axis":null}}},
{"data":{"values":[{"t":-996,"v":18300,"txt":"b"}]},
"mark":{"type":"text","align":"center","baseline":"middle","fontSize":17,"fontWeight":"bold","color":"#000"},
"encoding":{"x":{"field":"t","type":"quantitative","scale":{"domain":[0,3600]},"axis":null},"y":{"field":"v","type":"quantitative","scale":{"domain":[-450,20000]},"axis":null},"text":{"field":"txt"}}}
]},
{"width":377,"height":141,
"resolve":{"axis":{"x":"independent","y":"independent"}},
"layer":[
{"data":{"name":"pc"},"mark":{"type":"line","strokeWidth":2.2},
"encoding":{
"x":{"field":"t","type":"quantitative","scale":{"domain":[0,3600]},"axis":{"orient":"bottom","values":[0,1200,2400,3600],"tickSize":8,"labels":false,"title":null}},
"y":{"field":"v","type":"quantitative","scale":{"domain":[-195,2010]},"axis":{"orient":"left","values":[0,600,1200,1800],"tickSize":8,"labelPadding":7,"title":"Molar fraction (ppm)","titleX":-82,"titleY":70.5,"titleAngle":270,"titleAlign":"center","titleBaseline":"middle"}},
"color":{"field":"s","type":"nominal","scale":{"domain":["C2H4","C2H6","C6H6"],"range":["#e8625f","#6ea9d8","#c27fd0"]},"legend":null}}},
{"data":{"values":[{"t":0,"v":0}]},"mark":{"type":"point","opacity":0},
"encoding":{
"x":{"field":"t","type":"quantitative","scale":{"domain":[0,3600]},"axis":{"orient":"bottom","values":[200,400,600,800,1000,1400,1600,1800,2000,2200,2600,2800,3000,3200,3400],"tickSize":5,"labels":false,"domain":false,"title":null}},
"y":{"field":"v","type":"quantitative","scale":{"domain":[-195,2010]},"axis":{"orient":"left","values":[300,900,1500],"tickSize":5,"labels":false,"domain":false,"title":null}}}},
{"data":{"values":[{"t":0,"v":0}]},"mark":{"type":"point","opacity":0},
"encoding":{
"x":{"field":"t","type":"quantitative","scale":{"domain":[0,3600]},"axis":{"orient":"top","values":[0,1200,2400,3600],"tickSize":-8,"labels":false,"title":null}},
"y":{"field":"v","type":"quantitative","scale":{"domain":[-195,2010]},"axis":{"orient":"right","values":[0,600,1200,1800],"tickSize":-8,"labels":false,"title":null}}}},
{"data":{"values":[{"t":0,"v":0}]},"mark":{"type":"point","opacity":0},
"encoding":{
"x":{"field":"t","type":"quantitative","scale":{"domain":[0,3600]},"axis":{"orient":"top","values":[200,400,600,800,1000,1400,1600,1800,2000,2200,2600,2800,3000,3200,3400],"tickSize":-5,"labels":false,"domain":false,"title":null}},
"y":{"field":"v","type":"quantitative","scale":{"domain":[-195,2010]},"axis":{"orient":"right","values":[300,900,1500],"tickSize":-5,"labels":false,"domain":false,"title":null}}}},
{"data":{"values":[{"s":"C2H4","txt":"C₂H₄","t":1662,"v":1045},{"s":"C2H6","txt":"C₂H₆","t":1041,"v":576},{"s":"C6H6","txt":"C₆H₆","t":363,"v":211}]},
"mark":{"type":"text","align":"center","baseline":"middle","fontSize":17},
"encoding":{"x":{"field":"t","type":"quantitative","scale":{"domain":[0,3600]},"axis":null},"y":{"field":"v","type":"quantitative","scale":{"domain":[-195,2010]},"axis":null},"text":{"field":"txt"},"color":{"field":"s","type":"nominal","scale":{"domain":["C2H4","C2H6","C6H6"],"range":["#e8625f","#6ea9d8","#c27fd0"]},"legend":null}}},
{"data":{"values":[{"t":1050,"t2":1853,"v":1800,"v2":2191}]},
"mark":{"type":"rect","fill":"#fff","stroke":"#6b6b6b","strokeWidth":1},
"encoding":{"x":{"field":"t","type":"quantitative","scale":{"domain":[0,3600]},"axis":null},"x2":{"field":"t2"},"y":{"field":"v","type":"quantitative","scale":{"domain":[-195,2010]},"axis":null},"y2":{"field":"v2"}}},
{"data":{"values":[{"t":1452,"v":1996,"txt":"carbon foil"}]},
"mark":{"type":"text","align":"center","baseline":"middle","fontSize":17,"color":"#000"},
"encoding":{"x":{"field":"t","type":"quantitative","scale":{"domain":[0,3600]},"axis":null},"y":{"field":"v","type":"quantitative","scale":{"domain":[-195,2010]},"axis":null},"text":{"field":"txt"}}},
{"data":{"values":[{"t":-996,"v":1827,"txt":"c"}]},
"mark":{"type":"text","align":"center","baseline":"middle","fontSize":17,"fontWeight":"bold","color":"#000"},
"encoding":{"x":{"field":"t","type":"quantitative","scale":{"domain":[0,3600]},"axis":null},"y":{"field":"v","type":"quantitative","scale":{"domain":[-195,2010]},"axis":null},"text":{"field":"txt"}}}
]},
{"width":377,"height":143,
"resolve":{"axis":{"x":"independent","y":"independent"}},
"layer":[
{"data":{"name":"pd"},"transform":[{"fold":["C2H4","C2H6","C6H6"],"as":["s","v"]}],"mark":{"type":"line","strokeWidth":2},
"encoding":{
"x":{"field":"t","type":"quantitative","scale":{"domain":[0,3600]},"axis":{"orient":"bottom","values":[0,1200,2400,3600],"tickSize":8,"labelPadding":5,"title":"Time on stream (s)","titlePadding":3}},
"y":{"field":"v","type":"quantitative","scale":{"domain":[-23,200]},"axis":{"orient":"left","values":[0,60,120,180],"tickSize":8,"labelPadding":7,"title":null}},
"color":{"field":"s","type":"nominal","scale":{"domain":["C2H4","C2H6","C6H6"],"range":["#e8625f","#6ea9d8","#c27fd0"]},"legend":null}}},
{"data":{"values":[{"t":0,"v":0}]},"mark":{"type":"point","opacity":0},
"encoding":{
"x":{"field":"t","type":"quantitative","scale":{"domain":[0,3600]},"axis":{"orient":"bottom","values":[200,400,600,800,1000,1400,1600,1800,2000,2200,2600,2800,3000,3200,3400],"tickSize":5,"labels":false,"domain":false,"title":null}},
"y":{"field":"v","type":"quantitative","scale":{"domain":[-23,200]},"axis":{"orient":"left","values":[30,90,150],"tickSize":5,"labels":false,"domain":false,"title":null}}}},
{"data":{"values":[{"t":0,"v":0}]},"mark":{"type":"point","opacity":0},
"encoding":{
"x":{"field":"t","type":"quantitative","scale":{"domain":[0,3600]},"axis":{"orient":"top","values":[0,1200,2400,3600],"tickSize":-8,"labels":false,"title":null}},
"y":{"field":"v","type":"quantitative","scale":{"domain":[-23,200]},"axis":{"orient":"right","values":[0,60,120,180],"tickSize":-8,"labels":false,"title":null}}}},
{"data":{"values":[{"t":0,"v":0}]},"mark":{"type":"point","opacity":0},
"encoding":{
"x":{"field":"t","type":"quantitative","scale":{"domain":[0,3600]},"axis":{"orient":"top","values":[200,400,600,800,1000,1400,1600,1800,2000,2200,2600,2800,3000,3200,3400],"tickSize":-5,"labels":false,"domain":false,"title":null}},
"y":{"field":"v","type":"quantitative","scale":{"domain":[-23,200]},"axis":{"orient":"right","values":[30,90,150],"tickSize":-5,"labels":false,"domain":false,"title":null}}}},
{"data":{"values":[{"t":2912,"t2":3135,"v":16.5,"v2":81.5}]},
"mark":{"type":"rule","strokeWidth":2.2,"color":"#c27fd0"},
"encoding":{"x":{"field":"t","type":"quantitative","scale":{"domain":[0,3600]},"axis":null},"x2":{"field":"t2"},"y":{"field":"v","type":"quantitative","scale":{"domain":[-23,200]},"axis":null},"y2":{"field":"v2"}}},
{"data":{"values":[{"s":"C2H4","txt":"C₂H₄","t":1757,"v":107.5},{"s":"C2H6","txt":"C₂H₆","t":433,"v":63.3},{"s":"C6H6","txt":"C₆H₆","t":3135,"v":99.8}]},
"mark":{"type":"text","align":"center","baseline":"middle","fontSize":17},
"encoding":{"x":{"field":"t","type":"quantitative","scale":{"domain":[0,3600]},"axis":null},"y":{"field":"v","type":"quantitative","scale":{"domain":[-23,200]},"axis":null},"text":{"field":"txt"},"color":{"field":"s","type":"nominal","scale":{"domain":["C2H4","C2H6","C6H6"],"range":["#e8625f","#6ea9d8","#c27fd0"]},"legend":null}}},
{"data":{"values":[{"t":917,"t2":1910,"v":182.9,"v2":216.7}]},
"mark":{"type":"rect","fill":"#fff","stroke":"#6b6b6b","strokeWidth":1},
"encoding":{"x":{"field":"t","type":"quantitative","scale":{"domain":[0,3600]},"axis":null},"x2":{"field":"t2"},"y":{"field":"v","type":"quantitative","scale":{"domain":[-23,200]},"axis":null},"y2":{"field":"v2"}}},
{"data":{"values":[{"t":1413,"v":199.7,"txt":"carbon mesh"}]},
"mark":{"type":"text","align":"center","baseline":"middle","fontSize":17,"color":"#000"},
"encoding":{"x":{"field":"t","type":"quantitative","scale":{"domain":[0,3600]},"axis":null},"y":{"field":"v","type":"quantitative","scale":{"domain":[-23,200]},"axis":null},"text":{"field":"txt"}}},
{"data":{"values":[{"t":-786,"v":169.9,"v2":0.9}]},
"mark":{"type":"rule","strokeWidth":2.5,"color":"#000"},
"encoding":{"x":{"field":"t","type":"quantitative","scale":{"domain":[0,3600]},"axis":null},"y":{"field":"v","type":"quantitative","scale":{"domain":[-23,200]},"axis":null},"y2":{"field":"v2"}}},
{"data":{"values":[{"t":-786,"v":-16.4}]},
"mark":{"type":"point","shape":"M0,1L0.68,-1L-0.68,-1Z","size":484,"filled":true,"color":"#000","opacity":1},
"encoding":{"x":{"field":"t","type":"quantitative","scale":{"domain":[0,3600]},"axis":null},"y":{"field":"v","type":"quantitative","scale":{"domain":[-23,200]},"axis":null}}},
{"data":{"values":[{"t":-996,"v":182.9,"txt":"d"}]},
"mark":{"type":"text","align":"center","baseline":"middle","fontSize":17,"fontWeight":"bold","color":"#000"},
"encoding":{"x":{"field":"t","type":"quantitative","scale":{"domain":[0,3600]},"axis":null},"y":{"field":"v","type":"quantitative","scale":{"domain":[-23,200]},"axis":null},"text":{"field":"txt"}}}
]}
]}
]
}
